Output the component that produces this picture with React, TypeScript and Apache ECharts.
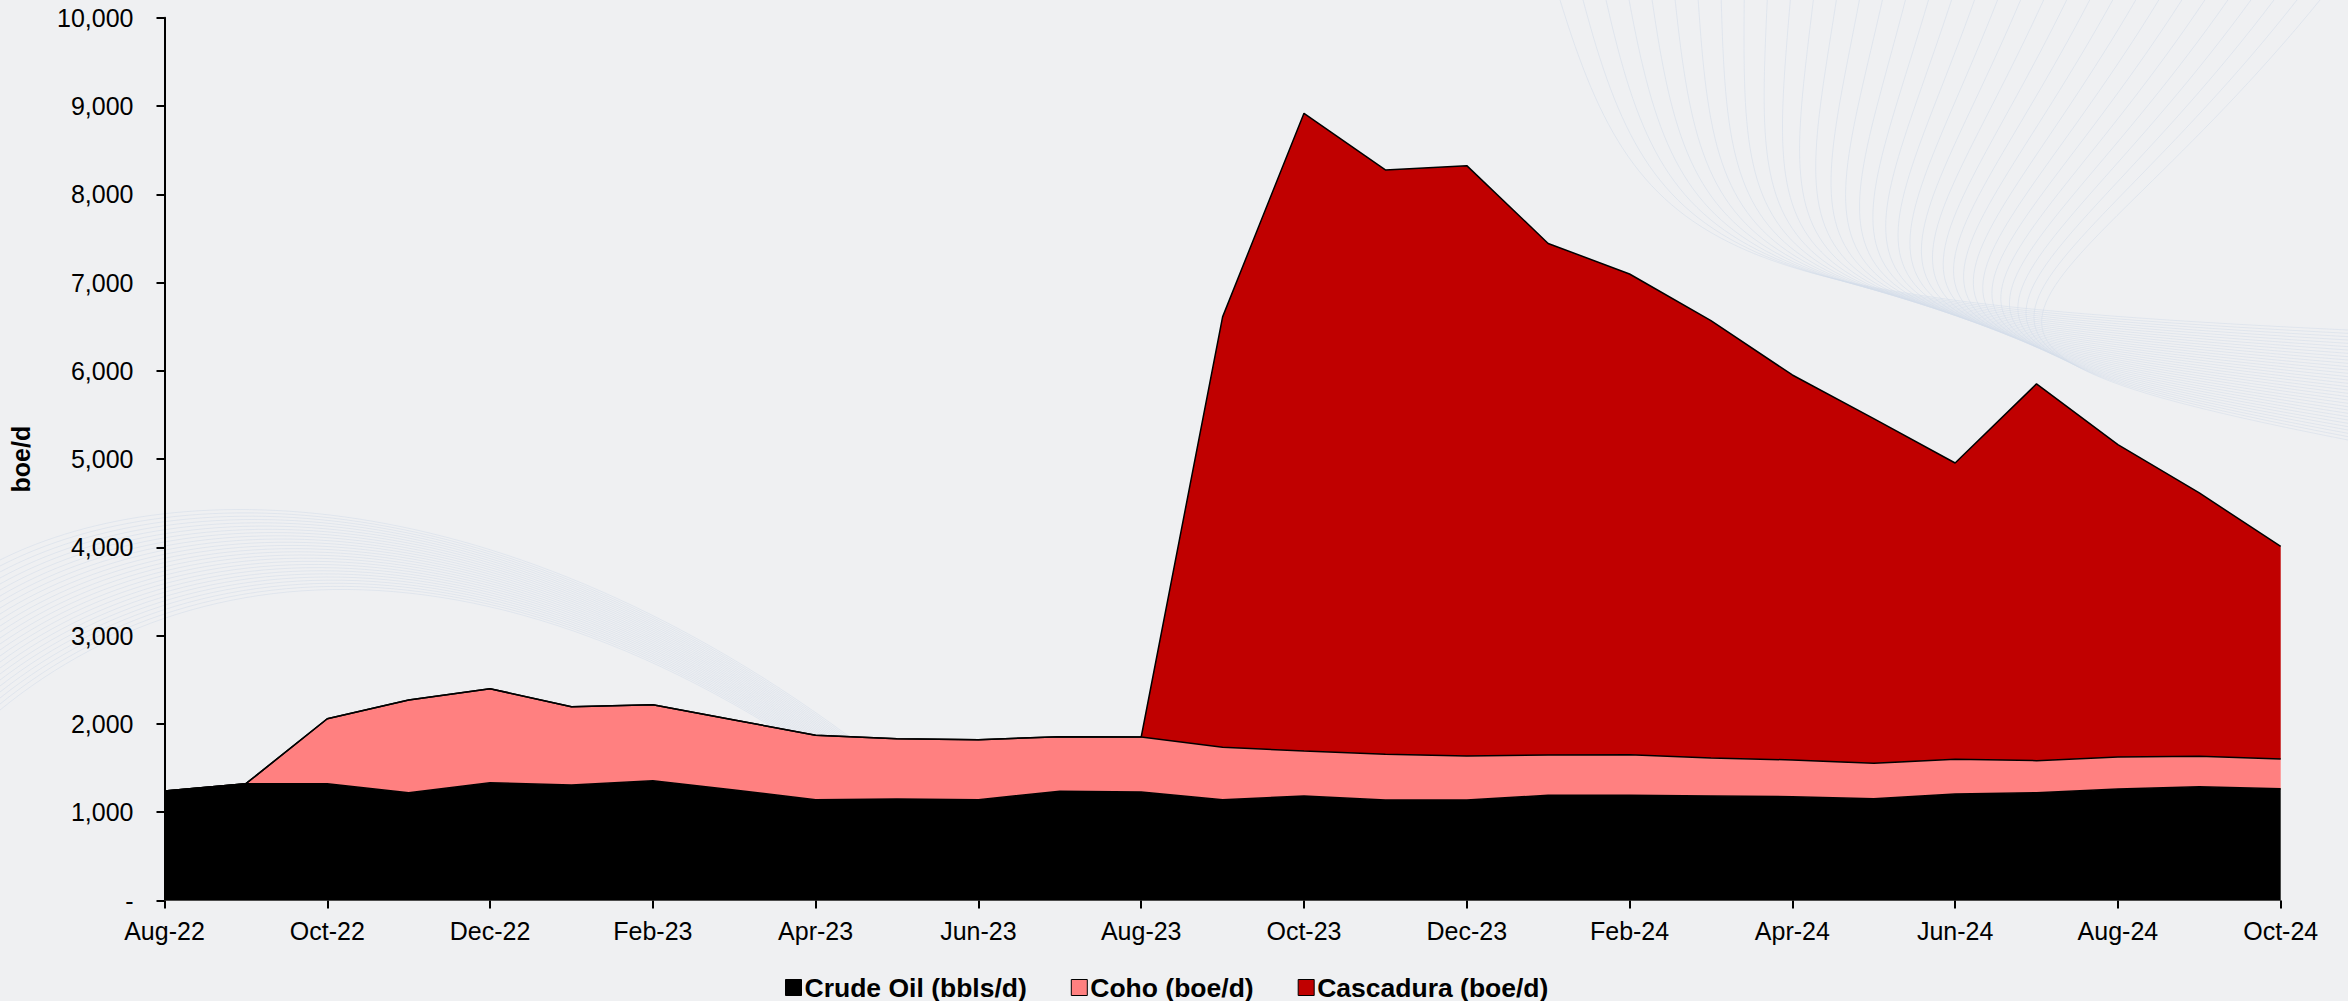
import React, { useEffect, useRef } from "react";
import * as echarts from "echarts";

const months = [
  "Aug-22", "Sep-22", "Oct-22", "Nov-22", "Dec-22", "Jan-23", "Feb-23", "Mar-23", "Apr-23",
  "May-23", "Jun-23", "Jul-23", "Aug-23", "Sep-23", "Oct-23", "Nov-23", "Dec-23", "Jan-24",
  "Feb-24", "Mar-24", "Apr-24", "May-24", "Jun-24", "Jul-24", "Aug-24", "Sep-24", "Oct-24",
];

const crudeOil = [
  1240, 1323, 1323, 1221, 1334, 1308, 1357, 1252, 1142,
  1150, 1142, 1237, 1229, 1142, 1184, 1138, 1138, 1192,
  1192, 1184, 1176, 1153, 1206, 1221, 1263, 1289, 1266,
];

const coho = [
  0, 0, 736, 1050, 1065, 887, 861, 793, 729,
  683, 680, 618, 623, 593, 509, 518, 499, 456,
  460, 430, 416, 401, 393, 363, 363, 344, 337,
];

const cascadura = [
  0, 0, 0, 0, 0, 0, 0, 0, 0,
  0, 0, 0, 0, 4876, 7224, 6619, 6687, 5795,
  5445, 4954, 4361, 3904, 3357, 4268, 3537, 2984, 2407,
];

const seriesNames = ["Crude Oil (bbls/d)", "Coho (boe/d)", "Cascadura (boe/d)"];
const seriesColors = ["#000000", "#ff8080", "#c00000"];
const yAxisName = "boe/d";

const FONT = "'Liberation Sans', Arial, sans-serif";

function decoCurves() {
  const els: any[] = [];
  const style = { stroke: "#d3dcea", lineWidth: 1, fill: null, opacity: 0.55 };
  // top-right decorative wave bundle
  for (let i = 0; i < 34; i++) {
    const t = i / 33;
    els.push({
      type: "bezierCurve",
      silent: true,
      z: -10,
      shape: {
        x1: 1560 + t * 760,
        y1: 0,
        cpx1: 1640 + t * 420,
        cpy1: 260 + t * 60,
        cpx2: 1720 + t * 120,
        cpy2: 300 + t * 40,
        x2: 2348,
        y2: 330 + t * 110,
      },
      style,
    });
  }
  // bottom-left decorative wave bundle
  for (let i = 0; i < 26; i++) {
    const t = i / 25;
    els.push({
      type: "bezierCurve",
      silent: true,
      z: -10,
      shape: {
        x1: 0,
        y1: 560 + t * 150,
        cpx1: 180 + t * 40,
        cpy1: 470 + t * 60,
        cpx2: 520 + t * 60,
        cpy2: 480 + t * 40,
        x2: 880 + t * 120,
        y2: 760 + t * 140,
      },
      style,
    });
  }
  return els;
}

export default function App() {
  const ref = useRef<HTMLDivElement>(null);

  useEffect(() => {
    document.body.style.margin = "0";
    document.body.style.background = "#eff0f2";
    if (!ref.current) return;
    const chart = echarts.init(ref.current, undefined, { renderer: "svg" });
    const datasets = [crudeOil, coho, cascadura];
    chart.setOption({
      animation: false,
      backgroundColor: "#eff0f2",
      textStyle: { fontFamily: FONT },
      graphic: decoCurves(),
      grid: { left: 164.5, right: 67.3, top: 17.7, bottom: 100.5, containLabel: false },
      legend: {
        left: 785,
        top: 974,
        padding: 0,
        itemGap: 44,
        itemWidth: 16,
        itemHeight: 16,
        icon: "rect",
        itemStyle: { borderColor: "#000", borderWidth: 1 },
        textStyle: { fontFamily: FONT, fontSize: 26.5, fontWeight: "bold", color: "#000", padding: [0, 0, 0, -2] },
        data: seriesNames,
      },
      xAxis: {
        type: "category",
        data: months,
        boundaryGap: false,
        axisLine: { lineStyle: { color: "#999", width: 1 } },
        axisTick: { interval: 1, length: 8, lineStyle: { color: "#000", width: 2 } },
        axisLabel: { interval: 1, margin: 18, fontSize: 25, color: "#000", fontFamily: FONT },
        splitLine: { show: false },
      },
      yAxis: {
        type: "value",
        min: 0,
        max: 10000,
        interval: 1000,
        name: yAxisName,
        nameLocation: "middle",
        nameGap: 131,
        nameTextStyle: { fontSize: 25, fontWeight: "bold", color: "#000", fontFamily: FONT },
        axisLine: { show: true, lineStyle: { color: "#000", width: 2 } },
        axisTick: { show: true, length: 8, lineStyle: { color: "#000", width: 2 } },
        axisLabel: {
          margin: 31,
          fontSize: 25,
          color: "#000",
          fontFamily: FONT,
          formatter: (v: number) => (v === 0 ? "-" : v.toLocaleString("en-US")),
        },
        splitLine: { show: false },
      },
      series: datasets.map((d, i) => ({
        name: seriesNames[i],
        type: "line",
        stack: "total",
        data: d,
        symbol: "none",
        itemStyle: { color: seriesColors[i] },
        lineStyle: { color: "#000", width: 1.5 },
        areaStyle: { color: seriesColors[i], opacity: 1 },
        z: 2,
      })),
    });
    return () => chart.dispose();
  }, []);

  return <div ref={ref} style={{ width: 2348, height: 1001 }} />;
}
